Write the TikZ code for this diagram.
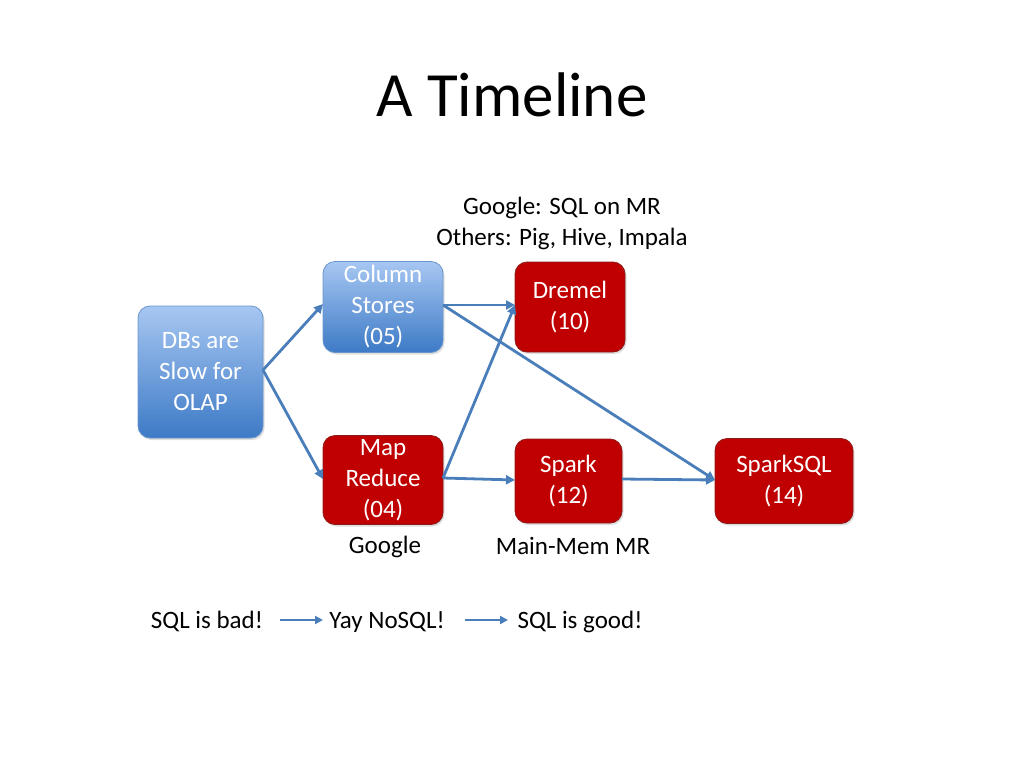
\documentclass[tikz,border=0pt]{standalone}
\usepackage{fontspec}
\setmainfont{Carlito}
\usetikzlibrary{arrows.meta,shadows}
\definecolor{arr}{HTML}{4A7EBB}
\definecolor{redfill}{HTML}{C00000}
\definecolor{redline}{HTML}{8C1B1B}
\definecolor{bluetop}{HTML}{A7C7F2}
\definecolor{bluebot}{HTML}{3D7AC6}
\definecolor{blueline}{HTML}{6A95CC}
\begin{document}
\begin{tikzpicture}[x=1pt,y=-1pt,
  box/.style={rounded corners=12pt, minimum width=#1, align=center, inner sep=0pt,
    font=\fontsize{25}{31}\selectfont, text=white, drop shadow={opacity=0.25, shadow xshift=1.5pt, shadow yshift=-2pt}},
  bluebox/.style={box=#1, draw=blueline, line width=0.8pt, top color=bluetop, bottom color=bluebot},
  redbox/.style={box=#1, draw=redline, line width=0.8pt, fill=redfill},
  conn/.style={draw=arr, line width=2.8pt, -{Triangle[length=9pt,width=9pt]}},
  small/.style={draw=arr, line width=2.6pt, -{Triangle[length=8pt,width=8pt]}},
  lbl/.style={font=\fontsize{25}{31}\selectfont, text=black, inner sep=0pt, anchor=base}]
\useasboundingbox (0,0) rectangle (1024,768);
\fill[white] (0,0) rectangle (1024,768);
\node[font=\fontsize{63}{66}\selectfont, inner sep=0pt, anchor=base] (title) at (512,116) {A Timeline};

\node[bluebox=125pt, minimum height=132pt] (dbs) at (200.5,372) {DBs are\\Slow for\\OLAP};
\node[bluebox=120pt, minimum height=91pt] (col) at (383,307) {Column\\Stores\\(05)};
\node[redbox=120pt, minimum height=89pt] (mr) at (383,480) {Map\\Reduce\\(04)};
\node[redbox=110pt, minimum height=90pt] (dre) at (570,307) {Dremel\\(10)};
\node[redbox=107pt, minimum height=84pt] (spk) at (568.5,481) {Spark\\(12)};
\node[redbox=138pt, minimum height=85pt] (ssql) at (784,481) {SparkSQL\\(14)};

\node[lbl] (g1) at (562,214) {Google: SQL on MR};
\node[lbl] (g2) at (562,245) {Others: Pig, Hive, Impala};
\node[lbl] (goog) at (385,553) {Google};
\node[lbl] (mm) at (573,554) {Main-Mem MR};

\coordinate (dbsE) at (263,370);
\coordinate (colE) at (443,305);
\coordinate (mrE) at (443,478);
\coordinate (dreW) at (515,305);
\draw[conn] (dbsE) -- (323,304);
\draw[conn] (dbsE) -- (323,479);
\draw[conn] (colE) -- (dreW);
\draw[conn] (colE) -- (715,480);
\draw[conn] (mrE) -- (dreW);
\draw[conn] (mrE) -- (515,480);
\draw[conn] (622,479) -- (715,480);

\node[lbl] (s1) at (207,628) {SQL is bad!};
\node[lbl] (s2) at (387,628) {Yay NoSQL!};
\node[lbl] (s3) at (580,628) {SQL is good!};
\coordinate (a1) at (280,620);
\coordinate (a1e) at (323,620);
\coordinate (a2) at (465,620);
\coordinate (a2e) at (508,620);
\draw[small] (a1) -- (a1e);
\draw[small] (a2) -- (a2e);
\end{tikzpicture}
\end{document}
